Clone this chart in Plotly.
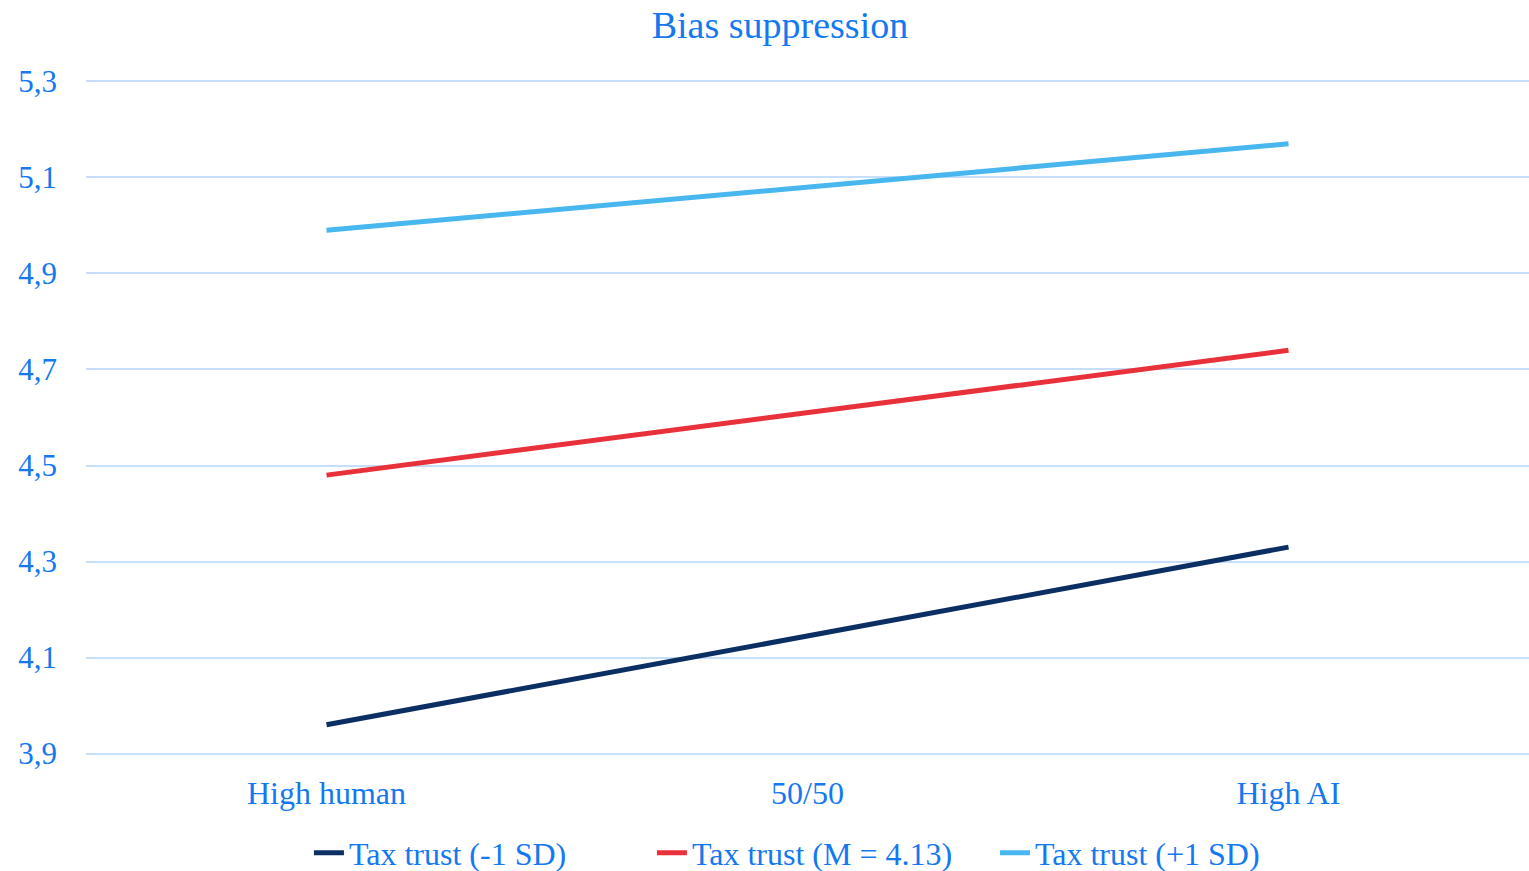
import plotly.graph_objects as go

categories = ["High human", "50/50", "High AI"]
series_names = ["Tax trust (-1 SD)", "Tax trust (M = 4.13)", "Tax trust (+1 SD)"]
low_sd = [3.96, 4.145, 4.33]
mean_vals = [4.48, 4.61, 4.74]
high_sd = [4.99, 5.08, 5.17]
y_ticks = [3.9, 4.1, 4.3, 4.5, 4.7, 4.9, 5.1, 5.3]
y_tick_labels = ["3,9", "4,1", "4,3", "4,5", "4,7", "4,9", "5,1", "5,3"]

colors = ["#0B2F62", "#E8313B", "#48B6EF"]
text_color = "#1479F0"
font_family = "Liberation Serif, Times New Roman, serif"

fig = go.Figure()
for name, vals, col in zip(series_names, [low_sd, mean_vals, high_sd], colors):
    fig.add_trace(go.Scatter(x=categories, y=vals, mode="lines", name=name,
                             line=dict(color=col, width=5)))

fig.update_layout(
    width=1529, height=871,
    paper_bgcolor="white", plot_bgcolor="white",
    margin=dict(l=86, r=0, t=80, b=116, autoexpand=False),
    title=dict(text="Bias suppression", x=0.5101, xanchor="center", yref="container",
               y=0.972, yanchor="middle",
               font=dict(family=font_family, size=38, color=text_color)),
    font=dict(family=font_family, color=text_color),
    showlegend=True,
    legend=dict(orientation="h", x=0.1545, xanchor="left", y=-0.145, yanchor="middle",
                entrywidth=298, entrywidthmode="pixels",
                font=dict(family=font_family, size=32, color=text_color),
                traceorder="normal"),
)
fig.update_xaxes(type="category", range=[-0.5, 2.5], showgrid=False, showline=False,
                 zeroline=False, ticks="", automargin=False, ticklabelstandoff=16,
                 tickfont=dict(family=font_family, size=32, color=text_color))
fig.update_yaxes(range=[3.897, 5.303], tickvals=y_ticks, ticktext=y_tick_labels,
                 showgrid=True, gridcolor="#C7DEF8", gridwidth=2, zeroline=False,
                 showline=False, ticks="", ticklabelstandoff=28, automargin=False,
                 tickfont=dict(family=font_family, size=31, color=text_color))

fig.write_html("out.html", config={"displayModeBar": False},
               post_script="document.body.style.margin='0';")
